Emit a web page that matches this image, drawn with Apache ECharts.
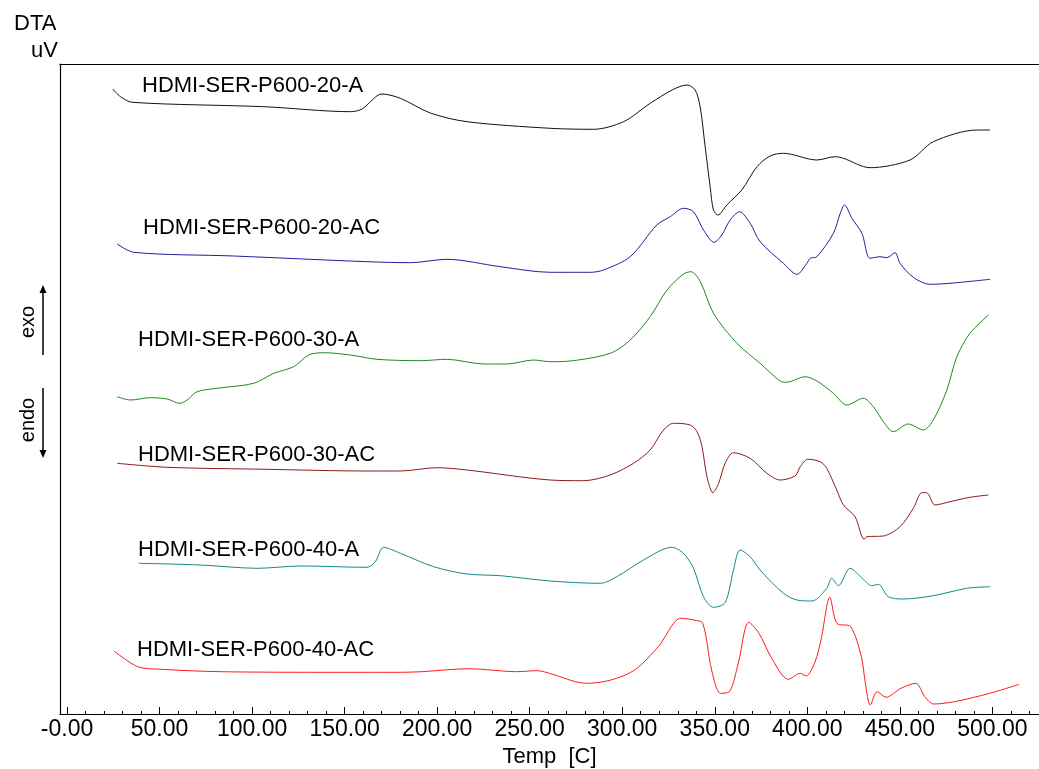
<!DOCTYPE html>
<html>
<head>
<meta charset="utf-8">
<script src="https://cdn.jsdelivr.net/npm/echarts@6/dist/echarts.min.js"></script>
<style>
  html, body { margin: 0; padding: 0; background: #ffffff; }
  #chart { width: 1039px; height: 769px; }
</style>
</head>
<body>
<div id="chart"></div>
<script>
// DTA traces, offset vertically: [temperature °C, signal (arbitrary, stacked)]
const sample20A = [[24.7, 625], [28.9, 617.3], [35.2, 611.7], [106.3, 607.3], [153.1, 602.3], [159.4, 605], [170.2, 620], [180.1, 615.7], [196.3, 601], [216.1, 592.3], [261.1, 585.7], [284.5, 584.7], [300.7, 592.3], [315.1, 610.7], [327.7, 624.7], [335.0, 629], [339.4, 624], [342.1, 607.3], [344.8, 567.3], [347.5, 527.3], [349.3, 504], [351.7, 499], [356.5, 509], [364.6, 524], [372.8, 547.3], [379.9, 558], [387.1, 560.7], [405.2, 554], [415.0, 557.3], [419.5, 555.7], [433.9, 546.3], [455.5, 554], [468.1, 572.3], [491.6, 584], [498.8, 584]];
const sample20AC = [[27.1, 470], [36.1, 461.7], [90.1, 458], [162.1, 452.3], [185.5, 451.3], [205.3, 454.7], [234.1, 447.3], [261.1, 441.7], [282.7, 441.7], [289.9, 444], [304.3, 457.3], [318.7, 489], [325.9, 497.3], [333.1, 505.7], [338.5, 502.3], [343.9, 484], [349.7, 471.7], [353.8, 479], [358.3, 494], [363.4, 502.3], [369.1, 490.7], [374.5, 472.3], [387.1, 450.7], [394.4, 439.7], [399.8, 450.7], [401.5, 455.7], [405.2, 457.3], [414.1, 480.7], [417.8, 500.7], [420.1, 509], [424.1, 495.7], [429.5, 480.7], [433.9, 455.7], [439.3, 457.3], [443.0, 456.3], [447.4, 461.3], [450.1, 450.7], [457.3, 436.7], [466.3, 429.7], [477.1, 430.7], [498.8, 434.7]];
const sample30A = [[27.1, 317.3], [34.3, 314], [45.1, 316.3], [54.1, 315], [60.8, 310.7], [64.9, 314], [70.3, 322.3], [81.1, 325.7], [100.9, 330.7], [111.7, 340.7], [122.5, 347.3], [130.6, 359], [138.7, 361.3], [153.1, 359], [167.5, 354.7], [190.9, 353.3], [205.3, 354.7], [225.1, 350], [237.7, 350], [252.1, 354], [261.1, 352.3], [271.9, 353], [293.5, 360.7], [304.3, 374], [315.1, 397.3], [324.2, 424], [333.1, 440], [337.1, 442.3], [342.2, 432.3], [349.3, 400.7], [362.0, 370.7], [374.5, 350.7], [385.3, 333], [388.9, 331.7], [398.8, 337.3], [405.2, 333], [414.1, 320.7], [421.4, 309], [430.3, 315.7], [435.7, 307.3], [441.1, 292.3], [446.5, 282.3], [454.6, 290], [462.7, 284], [468.1, 294], [475.4, 324], [480.8, 357.3], [487.9, 380.7], [497.9, 399]];
const sample30AC = [[27.1, 250.7], [54.1, 246.7], [108.1, 244.7], [162.1, 243], [180.1, 243], [199.9, 246.3], [216.1, 244], [261.1, 234], [279.1, 233.3], [293.5, 239], [306.1, 250.7], [315.1, 264], [322.3, 284], [327.7, 290.7], [336.7, 289], [340.4, 282.3], [343.1, 267.3], [345.8, 237.3], [349.0, 221.3], [352.1, 230.7], [355.6, 250.7], [360.1, 261.3], [369.1, 255.7], [378.2, 240.7], [385.3, 234], [393.4, 238], [396.2, 247.3], [400.3, 254.7], [407.0, 252.3], [410.5, 245.7], [415.9, 224], [419.5, 209], [425.8, 197.3], [430.7, 174.7], [432.2, 177.3], [441.1, 178], [450.1, 187.3], [457.3, 205.7], [461.9, 221.3], [464.5, 221.3], [469.0, 209], [477.1, 212.3], [487.9, 216.7], [497.9, 219]];
const sample40A = [[38.8, 150.7], [72.1, 149], [102.7, 145.7], [126.1, 148], [162.1, 146.7], [166.6, 152.3], [171.1, 166.7], [180.1, 160.7], [198.1, 147.3], [216.1, 140], [234.1, 138.3], [261.1, 133], [288.1, 130.7], [297.1, 137.3], [311.5, 154], [326.8, 166.7], [333.1, 160.7], [338.5, 145.7], [343.9, 117.3], [349.3, 106.7], [355.6, 111.3], [360.1, 144], [363.7, 164], [369.1, 157.3], [374.5, 144], [387.1, 120.7], [394.4, 114], [402.5, 113], [410.5, 125.7], [413.2, 135.7], [416.8, 128.3], [423.1, 145.7], [430.3, 134.7], [434.8, 128.3], [438.4, 129.7], [443.8, 117.3], [451.9, 115], [468.1, 118.3], [486.1, 125.7], [498.8, 127.3]];
const sample40AC = [[25.4, 63], [38.2, 47.3], [51.0, 44.7], [82.9, 42.3], [146.9, 41.7], [178.8, 41.7], [191.6, 42.3], [217.2, 45.3], [242.8, 42.3], [254.0, 43.3], [262.0, 40], [274.7, 32.3], [281.1, 30.7], [293.9, 34], [306.7, 44], [319.5, 67.3], [331.7, 95.7], [338.7, 94], [343.5, 90.7], [348.3, 44], [353.1, 20.7], [357.9, 22.3], [362.7, 50.7], [368.4, 91.7], [373.9, 80.7], [380.3, 57.3], [389.8, 34.7], [396.2, 40.7], [399.4, 38], [404.2, 52.3], [407.4, 74], [412.2, 116.7], [416.0, 90.7], [423.4, 87.3], [429.2, 57.3], [431.4, 30.7], [434.0, 9], [437.8, 22.3], [442.6, 16.7], [450.6, 25.7], [458.6, 30.7], [463.5, 17.3], [468.3, 10], [479.5, 12.3], [498.6, 20.7], [514.5, 29.7]];

const sampleNames = ['HDMI-SER-P600-20-A', 'HDMI-SER-P600-20-AC', 'HDMI-SER-P600-30-A', 'HDMI-SER-P600-30-AC', 'HDMI-SER-P600-40-A', 'HDMI-SER-P600-40-AC'];
const sampleData = [sample20A, sample20AC, sample30A, sample30AC, sample40A, sample40AC];
const sampleColors = ['#111111', '#1f1f9e', '#1e8a1e', '#8e1b1b', '#138a8a', '#ff1a1a'];
// label anchor (left px, middle px) for each trace name
const labelPos = [[142, 86], [143, 228], [138, 340], [138, 455], [138, 550], [137, 650]];

const majorTicks = [0, 50, 100, 150, 200, 250, 300, 350, 400, 450, 500];
const minorTicks = [];
for (let t = 0; t <= 520; t += 10) minorTicks.push(t);

const FONT = '"Liberation Sans", Arial, sans-serif';
const chart = echarts.init(document.getElementById('chart'), null, { renderer: 'canvas' });

const xRange = { min: -3.8, max: 525.2 };

const graphics = [];
sampleNames.forEach((name, i) => {
  graphics.push({
    type: 'text', x: labelPos[i][0], y: labelPos[i][1],
    style: { text: name, fill: '#000', font: '22px ' + FONT, textVerticalAlign: 'middle' }
  });
});
graphics.push(
  { type: 'text', x: 14, y: 24, style: { text: 'DTA', fill: '#000', font: '22px ' + FONT, textVerticalAlign: 'middle' } },
  { type: 'text', x: 58, y: 51, style: { text: 'uV', fill: '#000', font: '22px ' + FONT, textAlign: 'right', textVerticalAlign: 'middle' } },
  { type: 'text', x: 28, y: 322, rotation: Math.PI / 2, style: { text: 'exo', fill: '#000', font: '20px ' + FONT, textAlign: 'center', textVerticalAlign: 'middle' } },
  { type: 'text', x: 28, y: 420, rotation: Math.PI / 2, style: { text: 'endo', fill: '#000', font: '20px ' + FONT, textAlign: 'center', textVerticalAlign: 'middle' } },
  { type: 'line', shape: { x1: 43, y1: 292, x2: 43, y2: 355 }, style: { stroke: '#000', lineWidth: 1.5 } },
  { type: 'polygon', shape: { points: [[43, 285], [39.5, 293], [46.5, 293]] }, style: { fill: '#000' } },
  { type: 'line', shape: { x1: 43, y1: 388, x2: 43, y2: 451 }, style: { stroke: '#000', lineWidth: 1.5 } },
  { type: 'polygon', shape: { points: [[43, 458], [39.5, 450], [46.5, 450]] }, style: { fill: '#000' } }
);

chart.setOption({
  backgroundColor: '#ffffff',
  animation: false,
  grid: { left: 60, right: 0, top: 64, bottom: 55, containLabel: false, outerBoundsMode: 'none' },
  xAxis: [
    {
      type: 'value', position: 'bottom', ...xRange,
      name: 'Temp  [C]', nameLocation: 'middle', nameGap: 27,
      nameTextStyle: { color: '#000', fontFamily: FONT, fontSize: 22 },
      axisLine: { show: true, onZero: false, lineStyle: { color: '#000', width: 1.2 } },
      axisTick: { show: true, inside: true, length: 7, customValues: majorTicks, lineStyle: { color: '#000' } },
      axisLabel: {
        show: true, customValues: majorTicks, margin: 4, color: '#000',
        fontFamily: FONT, fontSize: 23,
        formatter: v => (v === 0 ? '-0.00' : v.toFixed(2))
      },
      splitLine: { show: false }
    },
    {
      type: 'value', position: 'bottom', ...xRange,
      axisLine: { show: false },
      axisTick: { show: true, inside: true, length: 3, customValues: minorTicks, lineStyle: { color: '#000' } },
      axisLabel: { show: false },
      splitLine: { show: false }
    },
    {
      type: 'value', position: 'top', ...xRange,
      axisLine: { show: true, onZero: false, lineStyle: { color: '#000', width: 1.2 } },
      axisTick: { show: false }, axisLabel: { show: false }, splitLine: { show: false }
    }
  ],
  yAxis: {
    type: 'value', min: 0, max: 650,
    axisLine: { show: true, onZero: false, lineStyle: { color: '#000', width: 1.2 } },
    axisTick: { show: false }, axisLabel: { show: false }, splitLine: { show: false }
  },
  series: sampleData.map((d, i) => ({
    name: sampleNames[i],
    type: 'line',
    xAxisIndex: 0,
    data: d,
    smooth: 0.3,
    symbol: 'none',
    lineStyle: { color: sampleColors[i], width: 1 }
  })),
  graphic: graphics
});
</script>
</body>
</html>
